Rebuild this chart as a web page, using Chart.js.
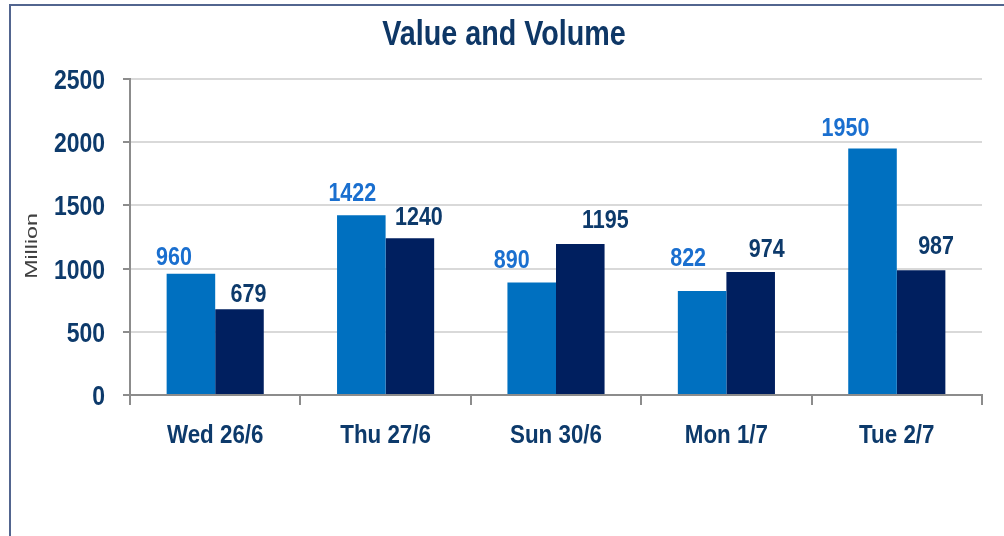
<!DOCTYPE html>
<html>
<head>
<meta charset="utf-8">
<title>Value and Volume</title>
<script src="https://cdn.jsdelivr.net/npm/chart.js@4"></script>
<style>
  html, body { margin: 0; padding: 0; background: #fff; }
  #wrap { position: relative; width: 1004px; height: 536px; overflow: hidden; }
  #frame {
    position: absolute; left: 9px; top: 4px; width: 1100px; height: 600px;
    border-top: 2px solid #52658f; border-left: 2px solid #52658f;
  }
  canvas { position: absolute; left: 0; top: 0; }
</style>
</head>
<body>
<div id="wrap">
  <div id="frame"></div>
  <canvas id="chart" width="1004" height="536"></canvas>
</div>
<script>
const categories = ["Wed 26/6", "Thu 27/6", "Sun 30/6", "Mon 1/7", "Tue 2/7"];
const valueSeries = [960, 1422, 890, 822, 1950];
const volumeSeries = [679, 1240, 1195, 974, 987];
const yTicks = [0, 500, 1000, 1500, 2000, 2500];
const chartTitle = "Value and Volume";
const yTitle = "Million";

// hand-placed label offsets from the bar top (dx, dy), like the original
const valueLabelNudge = [[-17, -9], [-9, -14], [-20, -15], [-14, -25], [-27, -13]];
const volumeLabelNudge = [[9, -7], [9, -13], [25, -16], [16, -15], [15, -16]];

const FONT = '"Liberation Sans", Arial, sans-serif';
const NAVY_TEXT = "#0d3a6b";

// the original text is a narrow face, so squeeze Liberation Sans sideways
function drawText(ctx, text, x, y, opts) {
  ctx.save();
  ctx.translate(x, y);
  if (opts.rotate) ctx.rotate(opts.rotate);
  ctx.scale(opts.kx || 1, opts.ky || 1);
  ctx.font = (opts.weight || "bold") + " " + opts.size + "px " + FONT;
  ctx.fillStyle = opts.color;
  ctx.textAlign = opts.align || "center";
  ctx.textBaseline = "alphabetic";
  ctx.fillText(text, 0, 0);
  ctx.restore();
}

const textLayer = {
  id: "textLayer",
  afterDraw(chart) {
    const ctx = chart.ctx;
    const xs = chart.scales.x;
    const ys = chart.scales.y;

    drawText(ctx, chartTitle, 504, 45, { size: 35, kx: 0.82, color: "#0e3766" });

    ys.ticks.forEach(t => {
      drawText(ctx, String(t.value), 105, ys.getPixelForValue(t.value) + 10,
        { size: 28, kx: 0.82, color: NAVY_TEXT, align: "right" });
    });

    categories.forEach((c, i) => {
      drawText(ctx, c, xs.getPixelForValue(i), 443,
        { size: 26, kx: 0.86, color: NAVY_TEXT });
    });

    drawText(ctx, yTitle, 37, 246,
      { size: 16, kx: 1.45, weight: "normal", color: "#404040", rotate: -Math.PI / 2 });
  },
  afterDatasetsDraw(chart) {
    const ctx = chart.ctx;
    chart.data.datasets.forEach((ds, i) => {
      const meta = chart.getDatasetMeta(i);
      meta.data.forEach((bar, j) => {
        const [dx, dy] = ds.nudge[j];
        drawText(ctx, String(ds.data[j]), bar.x + dx, bar.y + dy,
          { size: 25, kx: 0.86, color: ds.labelColor });
      });
    });
  }
};

new Chart(document.getElementById("chart"), {
  type: "bar",
  data: {
    labels: categories,
    datasets: [{
      label: "Value",
      data: valueSeries,
      backgroundColor: "#0070c0",
      labelColor: "#1a6fcf",
      nudge: valueLabelNudge,
      categoryPercentage: 0.57,
      barPercentage: 1.0
    }, {
      label: "Volume",
      data: volumeSeries,
      backgroundColor: "#001f5f",
      labelColor: NAVY_TEXT,
      nudge: volumeLabelNudge,
      categoryPercentage: 0.57,
      barPercentage: 1.0
    }]
  },
  options: {
    responsive: false,
    animation: false,
    layout: { padding: { left: 0, right: 22, top: 79, bottom: 41 } },
    plugins: {
      legend: { display: false },
      tooltip: { enabled: false },
      title: { display: false }
    },
    scales: {
      x: {
        grid: {
          offset: true,
          drawOnChartArea: false,
          drawTicks: true,
          tickLength: 10,
          tickColor: "#8c8c8c",
          lineWidth: 2
        },
        border: { color: "#8c8c8c", width: 2 },
        ticks: { display: false },
        afterFit(scale) { scale.height = 100; }
      },
      y: {
        min: 0,
        max: 2500,
        afterBuildTicks(scale) { scale.ticks = yTicks.map(v => ({ value: v })); },
        grid: {
          color: "#d9d9d9",
          lineWidth: 2,
          tickLength: 7,
          tickColor: "#8c8c8c"
        },
        border: { color: "#8c8c8c", width: 2 },
        ticks: { display: false },
        afterFit(scale) { scale.width = 130; }
      }
    }
  },
  plugins: [textLayer]
});
</script>
</body>
</html>
